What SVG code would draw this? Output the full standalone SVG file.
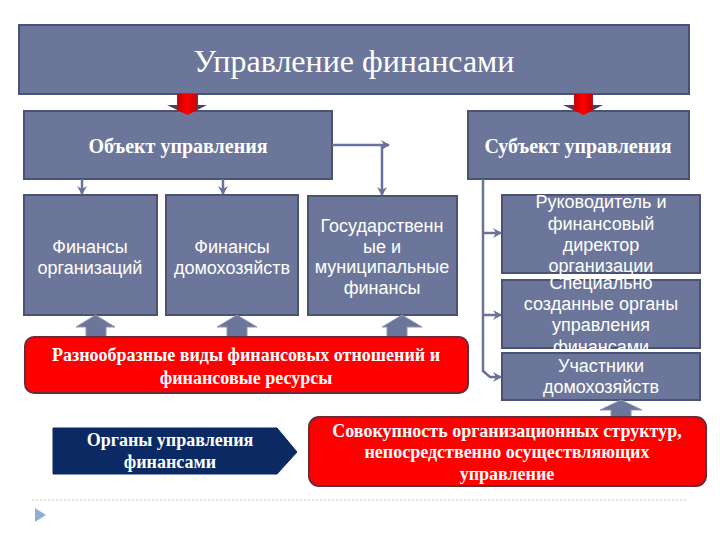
<svg xmlns="http://www.w3.org/2000/svg" width="720" height="540" viewBox="0 0 720 540">
<defs>
<style>
.box{fill:#6c769a;stroke:#4b5373;stroke-width:2}
.red{fill:#ff0000;stroke:#6a2a3a;stroke-width:2}
.navy{fill:#0b2a63;stroke:#0b2a63;stroke-width:1}
.up{fill:#6c769a;stroke:#8e97b5;stroke-width:1}
.con{fill:none;stroke:#69729a;stroke-width:2.5}
.sans{font-family:"Liberation Sans",Arial,sans-serif;font-size:18px;fill:#ffffff;text-anchor:middle}
.serif{font-family:"Liberation Serif","Times New Roman",serif;fill:#ffffff;text-anchor:middle}
.b{font-weight:bold;font-size:18px}
.h{font-weight:bold;font-size:20px}
</style>
<linearGradient id="rg" x1="0" y1="0" x2="1" y2="0">
<stop offset="0" stop-color="#3e4668"/>
<stop offset="0.22" stop-color="#5a3a55"/>
<stop offset="0.3" stop-color="#d00000"/>
<stop offset="0.5" stop-color="#ff0000"/>
<stop offset="0.7" stop-color="#d00000"/>
<stop offset="0.78" stop-color="#5a3a55"/>
<stop offset="1" stop-color="#3e4668"/>
</linearGradient>
<marker id="ah" markerWidth="10" markerHeight="10" refX="8" refY="5" orient="auto" markerUnits="userSpaceOnUse">
<path d="M0,0 L9,5 L0,10 L3,5 z" fill="#69729a"/>
</marker>
</defs>
<rect width="720" height="540" fill="#ffffff"/>

<g id="top">
<rect class="box" x="19" y="25" width="670" height="69"/>
<text class="serif" x="354" y="72" font-size="32">Управление финансами</text>
</g>

<g id="object">
<rect class="box" x="24" y="111" width="308" height="68"/>
<text class="serif h" x="178" y="153">Объект управления</text>
</g>

<g id="subject">
<rect class="box" x="468" y="111" width="221" height="68"/>
<text class="serif h" x="578" y="153">Субъект управления</text>
</g>

<g id="fin-org">
<rect class="box" x="24" y="195" width="133" height="120"/>
<text class="sans" x="90" y="253">Финансы</text>
<text class="sans" x="90" y="274">организаций</text>
</g>

<g id="fin-dom">
<rect class="box" x="166" y="195" width="132" height="120"/>
<text class="sans" x="232" y="253">Финансы</text>
<text class="sans" x="232" y="274">домохозяйств</text>
</g>

<g id="gos">
<rect class="box" x="308" y="196" width="149" height="119"/>
<text class="sans" x="382" y="232">Государственн</text>
<text class="sans" x="382" y="253">ые и</text>
<text class="sans" x="382" y="273">муниципальные</text>
<text class="sans" x="382" y="294">финансы</text>
</g>

<g id="rukovoditel">
<rect class="box" x="502" y="195" width="198" height="78"/>
<text class="sans" x="601" y="208">Руководитель и</text>
<text class="sans" x="601" y="229.5">финансовый</text>
<text class="sans" x="601" y="251">директор</text>
<text class="sans" x="601" y="272">организации</text>
</g>

<g id="specialno">
<rect class="box" x="502" y="280" width="198" height="68"/>
<text class="sans" x="601" y="289">Специально</text>
<text class="sans" x="601" y="310">созданные органы</text>
<text class="sans" x="601" y="331">управления</text>
<text class="sans" x="601" y="352.5">финансами</text>
</g>

<g id="uchastniki">
<rect class="box" x="502" y="353" width="198" height="47"/>
<text class="sans" x="601" y="372">Участники</text>
<text class="sans" x="601" y="393">домохозяйств</text>
</g>

<g id="connectors">
<polygon points="177,94 198,94 198,105 207,105 187.5,115 167,105 177,105" fill="url(#rg)"/>
<polygon points="574,94 593,94 593,105 603,105 583.5,115 563,105 574,105" fill="url(#rg)"/>
<line class="con" x1="82" y1="179" x2="82" y2="194" marker-end="url(#ah)"/>
<line class="con" x1="223" y1="179" x2="223" y2="194" marker-end="url(#ah)"/>
<line class="con" x1="332" y1="145" x2="389" y2="145" marker-end="url(#ah)"/>
<line class="con" x1="382" y1="145" x2="382" y2="195" marker-end="url(#ah)"/>
<line class="con" x1="483" y1="179" x2="483" y2="372"/>
<line class="con" x1="483" y1="233" x2="501" y2="233" marker-end="url(#ah)"/>
<line class="con" x1="483" y1="315" x2="501" y2="315" marker-end="url(#ah)"/>
<polyline class="con" points="483,371 490,377 501,377" marker-end="url(#ah)"/>
<polygon class="up" points="86,337 106,337 106,327 115,327 95.5,315 76,327 86,327"/>
<polygon class="up" points="227,337 247,337 247,327 257,327 237,315 217,327 227,327"/>
<polygon class="up" points="387,337 407,337 407,327 422,327 402,315 382,327 387,327"/>
<polygon class="up" points="611,417 631,417 631,410 642,410 621,400 600,410 611,410"/>
</g>

<g id="relations">
<rect class="red" x="25" y="337" width="443" height="56" rx="9"/>
<text class="serif b" x="246" y="361">Разнообразные виды финансовых отношений и</text>
<text class="serif b" x="246" y="384">финансовые ресурсы</text>
</g>

<g id="organy">
<polygon class="navy" points="53,428 277,428 297,452 277,474 53,474"/>
<text class="serif b" x="170" y="446">Органы управления</text>
<text class="serif b" x="170" y="468">финансами</text>
</g>

<g id="sovokupnost">
<rect class="red" x="309" y="417" width="397" height="69" rx="10"/>
<text class="serif b" x="507" y="437">Совокупность организационных структур,</text>
<text class="serif b" x="507" y="458">непосредственно осуществляющих</text>
<text class="serif b" x="507" y="480">управление</text>
</g>

<line x1="32" y1="500" x2="686" y2="500" stroke="#c4c4c4" stroke-width="1" stroke-dasharray="2,2"/>
<polygon points="35,508 46,515 35,522" fill="#8fb0d6"/>
</svg>
